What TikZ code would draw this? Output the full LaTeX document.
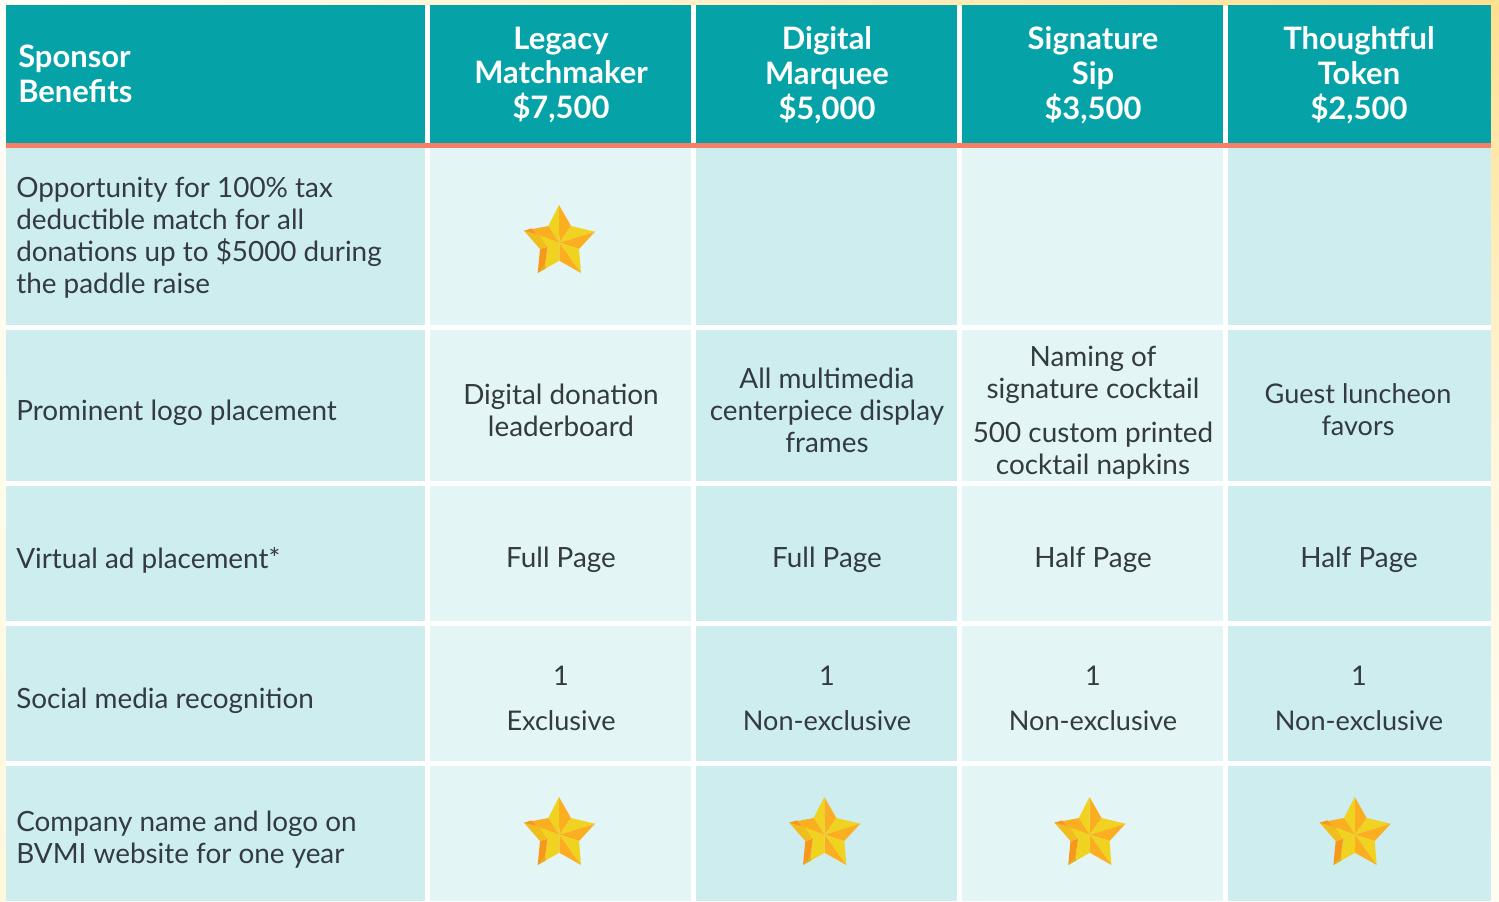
\documentclass[tikz,border=0pt]{standalone}
\usepackage{fontspec}
\setmainfont{Lato}
\definecolor{teal}{HTML}{05A3A8}
\definecolor{coral}{HTML}{F77F65}
\definecolor{cdark}{HTML}{CDEDEE}
\definecolor{clight}{HTML}{E4F5F5}
\definecolor{ink}{HTML}{333B40}
\definecolor{stY}{HTML}{F0D320}
\definecolor{stO}{HTML}{FBAE1F}
\definecolor{stD}{HTML}{F7981D}
\definecolor{stG}{HTML}{EFBE1E}
\definecolor{stL}{HTML}{DDB02A}
\definecolor{bgA}{HTML}{FFFEF8}
\definecolor{bgB}{HTML}{FFF8DC}
\definecolor{bgC}{HTML}{FFE08F}
\definecolor{bgD}{HTML}{FFF6DC}
\definecolor{bgE}{HTML}{FFFDF3}
\tikzset{
  x=0.75pt,y=-0.75pt,
  cellbox/.style={inner sep=0pt,outer sep=0pt,anchor=north west},
  bodytxt/.style={inner sep=0pt,text=ink,font=\fontsize{20.9}{24}\selectfont},
  lefttxt/.style={bodytxt,anchor=west,align=left},
  midtxt/.style={bodytxt,align=center},
  midtight/.style={midtxt,font=\fontsize{20.3}{24}\selectfont},
  headtxt/.style={inner sep=0pt,text=white,align=center,font=\fontsize{23.2}{26.2}\selectfont\bfseries},
  starpic/.pic={
    \fill[stO] (0,0)--(-0.3,-37.7)--(11.7,-16.7)--cycle;
    \fill[stY] (0,0)--(-0.3,-37.7)--(-11,-16.7)--cycle;
    \fill[stY] (0,0)--(11.7,-16.7)--(35.7,-11)--cycle;
    \fill[stO] (0,0)--(35.7,-11)--(19.7,6.3)--cycle;
    \fill[stY] (0,0)--(19.7,6.3)--(21.7,30.3)--cycle;
    \fill[stO] (0,0)--(21.7,30.3)--(0,18)--cycle;
    \fill[stY] (0,0)--(-11.7,4)--(-14.3,22.3)--(-21.6,30.3)--(0,18)--cycle;
    \fill[stD] (-19.3,6.3)--(-11.7,4)--(-14.3,22.3)--(-21.6,30.3)--cycle;
    \fill[stL] (-14.3,22.3)--(-21.6,30.3)--(-13.5,25.7)--cycle;
    \fill[stG] (0,0)--(-19.3,6.3)--(-35.3,-12)--cycle;
    \fill[stO] (0,0)--(-35.3,-12)--(-11,-16.7)--cycle;
    \fill[stY] (0,0)--(-19.3,-7.3)--(-12.7,3.7)--cycle;
    \fill[stD] (-35.3,-12)--(-27.7,-14.3)--(-23.3,-8.7)--cycle;
  }
}
% name, x0, y0, width, height, colour
\newcommand{\cellrect}[6]{\node[cellbox,fill=#6,minimum width=#4*0.75pt,minimum height=#5*0.75pt] (#1) at (#2,#3) {};}
\begin{document}
\begin{tikzpicture}
\path[use as bounding box] (0,0) rectangle (1499,901);
\fill[white] (0,0) rectangle (1499,901);
% page background strips
\shade[left color=bgA,right color=bgC] (0,0) rectangle (1499,5);
\shade[top color=bgA,bottom color=bgB] (0,5) rectangle (6,901);
\shade[top color=bgC,bottom color=bgD] (1491,5) rectangle (1499,450);
\shade[top color=bgD,bottom color=bgE] (1491,450) rectangle (1499,901);
% header
\cellrect{h0}{6}{5}{419}{138}{teal}
\cellrect{h1}{430}{5}{261}{138}{teal}
\cellrect{h2}{696}{5}{261}{138}{teal}
\cellrect{h3}{962}{5}{261}{138}{teal}
\cellrect{h4}{1228}{5}{263}{138}{teal}
\fill[coral] (6,143) rectangle (1491,148);
% rows
\foreach \r/\y/\hh in {a/148/177,b/330/151,c/486/135,d/626/135,e/766/135}{
  \cellrect{\r0}{6}{\y}{419}{\hh}{cdark}
  \cellrect{\r1}{430}{\y}{261}{\hh}{clight}
  \cellrect{\r2}{696}{\y}{261}{\hh}{cdark}
  \cellrect{\r3}{962}{\y}{261}{\hh}{clight}
  \cellrect{\r4}{1228}{\y}{263}{\hh}{cdark}
}
% header text
\node[headtxt,align=left,anchor=west] (ht0) at (18,74) {Sponsor\\Benefits};
\node[headtxt] (ht1) at (561,75) {Legacy\\Matchmaker\\\$7,500};
\node[headtxt] (ht2) at (827,75) {Digital\\Marquee\\\$5,000};
\node[headtxt] (ht3) at (1093,75) {Signature\\Sip\\\$3,500};
\node[headtxt] (ht4) at (1359,75) {Thoughtful\\Token\\\$2,500};
% first column
\node[lefttxt] (t1) at (16,237.5) {Opportunity for 100\% tax\\deductible match for all\\donations up to \$5000 during\\the paddle raise};
\node[lefttxt] (t2) at (16,413) {Prominent logo placement};
\node[lefttxt] (t3) at (16,560) {Virtual ad placement*};
\node[lefttxt] (t4) at (16,701) {Social media recognition};
\node[lefttxt] (t5) at (16,840) {Company name and logo on\\BVMI website for one year};
% row 2
\node[midtxt] (b1t) at (561,410) {Digital donation\\leaderboard};
\node[midtxt] (b2t) at (827,410) {All multimedia\\centerpiece display\\frames};
\node[midtxt] (b3t) at (1093,412.5) {Naming of\\signature cocktail\\[9pt]500 custom printed\\cocktail napkins};
\node[midtight] (b4t) at (1358,410) {Guest luncheon\\favors};
% row 3
\node[midtxt] (c1t) at (561,560) {Full Page};
\node[midtxt] (c2t) at (827,560) {Full Page};
\node[midtxt] (c3t) at (1093,560) {Half Page};
\node[midtxt] (c4t) at (1359,560) {Half Page};
% row 4
\node[midtight] (d1t) at (561,698) {1\\[9.7pt]Exclusive};
\node[midtight] (d2t) at (827,698) {1\\[9.7pt]Non-exclusive};
\node[midtight] (d3t) at (1093,698) {1\\[9.7pt]Non-exclusive};
\node[midtight] (d4t) at (1359,698) {1\\[9.7pt]Non-exclusive};
% stars
\pic at (559.3,242.7) {starpic};
\pic at (559.3,834.7) {starpic};
\pic at (824.6,834.7) {starpic};
\pic at (1089.8,834.7) {starpic};
\pic at (1355,834.7) {starpic};
\end{tikzpicture}
\end{document}
